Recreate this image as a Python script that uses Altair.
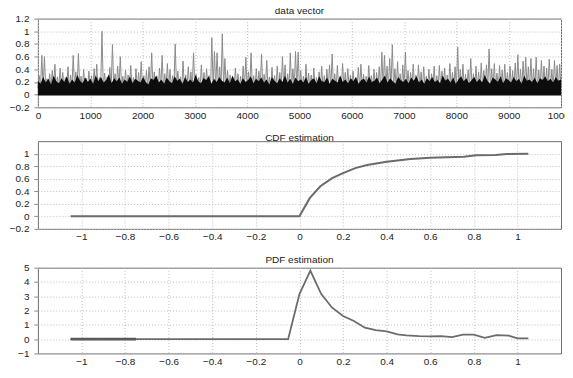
import altair as alt
import pandas as pd

# ---------------- data vector (index 0..10000) ----------------
# gray spike heights, one per 50 samples
gray_peaks = [
    0.30, 0.62, 0.60, 0.25, 0.33, 0.38, 0.48, 0.28, 0.42, 0.35,
    0.27, 0.44, 0.31, 0.62, 0.36, 0.65, 0.29, 0.40, 0.26, 0.37,
    0.30, 0.41, 0.48, 0.27, 1.00, 0.34, 0.28, 0.43, 0.79, 0.33,
    0.45, 0.60, 0.29, 0.39, 0.31, 0.46, 0.27, 0.41, 0.35, 0.52,
    0.30, 0.38, 0.44, 0.66, 0.36, 0.29, 0.42, 0.62, 0.33, 0.49,
    0.40, 0.30, 0.80, 0.37, 0.28, 0.53, 0.31, 0.44, 0.36, 0.66,
    0.32, 0.27, 0.47, 0.35, 0.41, 0.30, 0.90, 0.68, 0.66, 0.44,
    0.96, 0.57, 0.38, 0.31, 0.27, 0.42, 0.33, 0.29, 0.45, 0.59,
    0.36, 0.66, 0.30, 0.41, 0.37, 0.64, 0.32, 0.54, 0.28, 0.43,
    0.30, 0.45, 0.35, 0.60, 0.47, 0.33, 0.66, 0.41, 0.68, 0.67,
    0.38, 0.29, 0.48, 0.34, 0.31, 0.42, 0.27, 0.36, 0.45, 0.30,
    0.40, 0.47, 0.64, 0.33, 0.46, 0.28, 0.49, 0.35, 0.41, 0.31,
    0.37, 0.27, 0.43, 0.48, 0.32, 0.29, 0.46, 0.30, 0.40, 0.35,
    0.44, 0.67, 0.62, 0.45, 0.57, 0.79, 0.41, 0.52, 0.33, 0.47,
    0.67, 0.38, 0.35, 0.48, 0.31, 0.47, 0.36, 0.44, 0.29, 0.40,
    0.33, 0.45, 0.30, 0.46, 0.37, 0.42, 0.31, 0.49, 0.35, 0.44,
    0.75, 0.40, 0.48, 0.32, 0.39, 0.57, 0.33, 0.45, 0.36, 0.50,
    0.38, 0.47, 0.72, 0.41, 0.49, 0.34, 0.46, 0.39, 0.48, 0.35,
    0.45, 0.38, 0.50, 0.63, 0.40, 0.53, 0.59, 0.44, 0.57, 0.41,
    0.59, 0.39, 0.54, 0.45, 0.42, 0.56, 0.40, 0.54, 0.46, 0.48,
]
gray_valley = 0.1
# top edge of the dense dark band, one per 50 samples
black_top = [
    0.22, 0.17, 0.28, 0.19, 0.25, 0.16, 0.30, 0.21, 0.18, 0.26,
    0.20, 0.29, 0.17, 0.24, 0.19, 0.31, 0.22, 0.18, 0.27, 0.20,
    0.25, 0.17, 0.30, 0.21, 0.28, 0.19, 0.23, 0.32, 0.18, 0.26,
    0.21, 0.27, 0.17, 0.24, 0.20, 0.29, 0.18, 0.25, 0.22, 0.19,
    0.28, 0.20, 0.16, 0.26, 0.23, 0.30, 0.19, 0.24, 0.17, 0.27,
    0.21, 0.18, 0.29, 0.22, 0.25, 0.17, 0.28, 0.20, 0.24, 0.19,
    0.31, 0.21, 0.18, 0.26, 0.23, 0.29, 0.17, 0.25, 0.20, 0.28,
    0.22, 0.19, 0.27, 0.18, 0.30, 0.21, 0.24, 0.17, 0.26, 0.20,
    0.23, 0.29, 0.18, 0.25, 0.21, 0.27, 0.19, 0.24, 0.16, 0.28,
    0.22, 0.18, 0.26, 0.20, 0.30, 0.19, 0.25, 0.17, 0.27, 0.21,
    0.24, 0.19, 0.28, 0.17, 0.23, 0.26, 0.18, 0.29, 0.21, 0.20,
    0.27, 0.17, 0.25, 0.22, 0.19, 0.30, 0.20, 0.24, 0.18, 0.26,
    0.21, 0.28, 0.17, 0.23, 0.25, 0.19, 0.29, 0.20, 0.22, 0.27,
    0.18, 0.24, 0.30, 0.19, 0.26, 0.21, 0.17, 0.28, 0.23, 0.20,
    0.25, 0.18, 0.27, 0.22, 0.29, 0.19, 0.24, 0.17, 0.26, 0.21,
    0.28, 0.20, 0.23, 0.18, 0.30, 0.22, 0.25, 0.19, 0.27, 0.17,
    0.24, 0.29, 0.21, 0.26, 0.18, 0.23, 0.28, 0.20, 0.25, 0.19,
    0.31, 0.22, 0.17, 0.27, 0.24, 0.20, 0.29, 0.18, 0.26, 0.23,
    0.19, 0.28, 0.21, 0.25, 0.17, 0.30, 0.22, 0.24, 0.20, 0.27,
    0.18, 0.26, 0.23, 0.29, 0.21, 0.25, 0.19, 0.28, 0.22, 0.24,
]
black_bottom = -0.015

# ---------------- CDF estimation ----------------
cdf_x = [-1.05, 0.0, 0.047, 0.096, 0.15, 0.2, 0.256, 0.31, 0.4, 0.51, 0.6, 0.755, 0.81, 0.9, 0.95, 1.05]
cdf_y = [0.0, 0.0, 0.29, 0.48, 0.61, 0.69, 0.77, 0.82, 0.87, 0.915, 0.937, 0.95, 0.975, 0.98, 0.995, 1.0]

# ---------------- PDF estimation ----------------
pdf_x = [-1.05, -0.052, 0.0, 0.05, 0.1, 0.15, 0.2, 0.25, 0.3, 0.35, 0.4, 0.45, 0.49, 0.55,
         0.6, 0.65, 0.7, 0.75, 0.8, 0.85, 0.905, 0.96, 1.0, 1.05]
pdf_y = [0.0, 0.0, 3.15, 4.8, 3.15, 2.2, 1.62, 1.27, 0.8, 0.63, 0.54, 0.33, 0.26, 0.21,
         0.19, 0.21, 0.14, 0.31, 0.31, 0.09, 0.28, 0.24, 0.05, 0.05]
pdf_thick_x = [-1.05, -0.75]
pdf_thick_y = [0.0, 0.0]

# tick values
top_x_ticks = [0, 1000, 2000, 3000, 4000, 5000, 6000, 7000, 8000, 9000, 10000]
top_y_ticks = [-0.2, 0, 0.2, 0.4, 0.6, 0.8, 1, 1.2]
est_x_ticks = [-1, -0.8, -0.6, -0.4, -0.2, 0, 0.2, 0.4, 0.6, 0.8, 1]
cdf_y_ticks = [-0.2, 0, 0.2, 0.4, 0.6, 0.8, 1]
pdf_y_ticks = [-1, 0, 1, 2, 3, 4, 5]

# ---------------- build tables ----------------
gray_rows = []
for k, p in enumerate(gray_peaks):
    gray_rows.append({"i": 50 * k, "v": gray_valley})
    gray_rows.append({"i": 50 * k + 25, "v": p})
gray_rows.append({"i": 10000, "v": gray_valley})
gray_df = pd.DataFrame(gray_rows)

n_b = len(black_top)
black_df = pd.DataFrame({"i": [k * 10000 / (n_b - 1) for k in range(n_b)], "v": black_top})

cdf_df = pd.DataFrame({"x": cdf_x, "y": cdf_y})
pdf_df = pd.DataFrame({"x": pdf_x, "y": pdf_y})
pdf_thick_df = pd.DataFrame({"x": pdf_thick_x, "y": pdf_thick_y})

FONT = "Liberation Sans"
W = 525


def xaxis(vals, fmt):
    return alt.Axis(values=vals, title=None, grid=True, gridColor="#bdbdbd", gridDash=[1, 2],
                    ticks=False, domain=False, labelFont=FONT, labelFontSize=10,
                    labelColor="#222", labelPadding=3, labelFlush=False, labelOverlap=False,
                    format=fmt)


def yaxis(vals):
    return alt.Axis(values=vals, title=None, grid=True, gridColor="#bdbdbd", gridDash=[1, 2],
                    ticks=True, tickSize=4, tickColor="#888", domain=False, labelFont=FONT,
                    labelFontSize=10, labelColor="#222", labelPadding=5, format="~g",
                    labelOverlap=False)


def ttl(text):
    return alt.TitleParams(text, font=FONT, fontSize=10, fontWeight="normal", color="#222",
                           offset=-2, anchor="middle")


top_x = alt.X("i:Q", scale=alt.Scale(domain=[0, 10000], nice=False), axis=xaxis(top_x_ticks, "d"))
top_y = alt.Y("v:Q", scale=alt.Scale(domain=[-0.2, 1.2], nice=False), axis=yaxis(top_y_ticks))

gray_line = alt.Chart(gray_df).mark_line(color="#8a8a8a", strokeWidth=1).encode(x=top_x, y=top_y)
black_area = alt.Chart(black_df).mark_area(color="#0d0d0d").encode(
    x=top_x, y=top_y, y2=alt.datum(black_bottom))

top = alt.layer(gray_line, black_area).properties(
    width=W, height=89, title=ttl("data vector"))

est_x = alt.X("x:Q", scale=alt.Scale(domain=[-1.2, 1.2], nice=False), axis=xaxis(est_x_ticks, "~g"))

cdf = alt.Chart(cdf_df).mark_line(color="#6b6b6b", strokeWidth=2).encode(
    x=est_x,
    y=alt.Y("y:Q", scale=alt.Scale(domain=[-0.2, 1.2], nice=False), axis=yaxis(cdf_y_ticks)),
).properties(width=W, height=88, title=ttl("CDF estimation"))

pdf_y_enc = alt.Y("y:Q", scale=alt.Scale(domain=[-1, 5], nice=False), axis=yaxis(pdf_y_ticks))
pdf_line = alt.Chart(pdf_df).mark_line(color="#6b6b6b", strokeWidth=1.8).encode(x=est_x, y=pdf_y_enc)
pdf_thick = alt.Chart(pdf_thick_df).mark_line(color="#5a5a5a", strokeWidth=3).encode(x=est_x, y=pdf_y_enc)
pdf = alt.layer(pdf_line, pdf_thick).properties(width=W, height=86, title=ttl("PDF estimation"))

chart = alt.vconcat(top, cdf, pdf, spacing=11).configure(
    padding={"left": 0, "top": -4, "right": -11, "bottom": -1}
).configure_view(stroke="#6e6e6e", strokeWidth=1)

chart.save("out.html", embed_options={"renderer": "svg", "actions": False})
